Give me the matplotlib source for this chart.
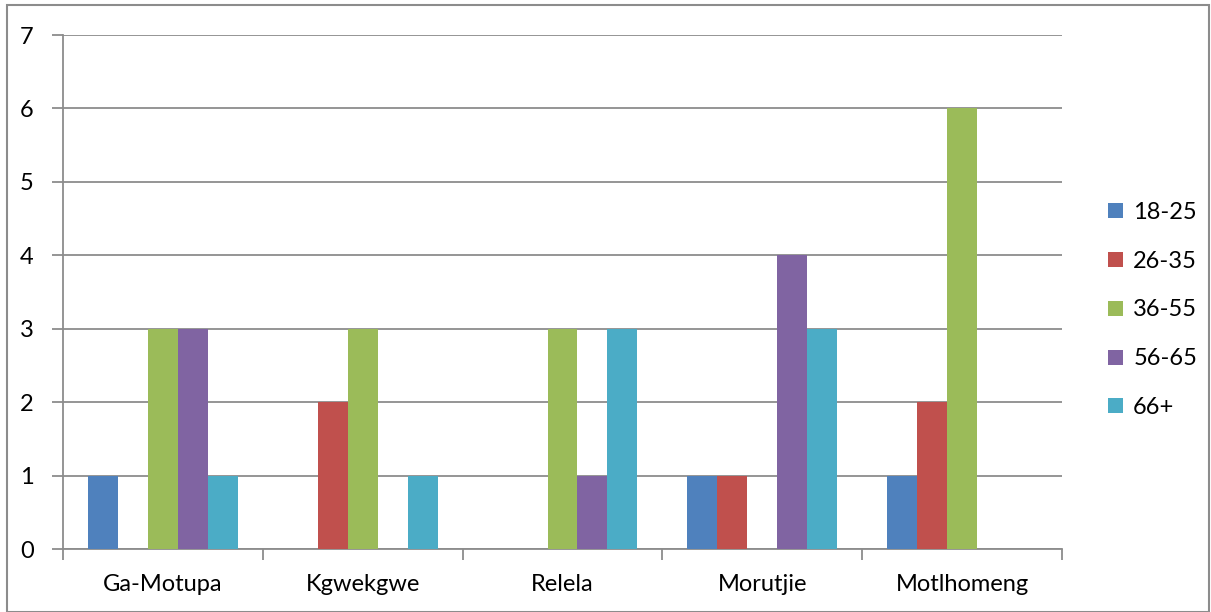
import matplotlib
matplotlib.use('Agg')
import matplotlib.pyplot as plt
from matplotlib.patches import Rectangle
import numpy as np

# chart data
villages = ['Ga-Motupa', 'Kgwekgwe', 'Relela', 'Morutjie', 'Motlhomeng']
age_groups = ['18-25', '26-35', '36-55', '56-65', '66+']
age_18_25 = [1, 0, 0, 1, 1]
age_26_35 = [0, 2, 0, 1, 2]
age_36_55 = [3, 3, 3, 0, 6]
age_56_65 = [3, 0, 1, 4, 0]
age_66_up = [1, 1, 3, 3, 0]
series = [age_18_25, age_26_35, age_36_55, age_56_65, age_66_up]
colors = ['#4F81BD', '#C0504D', '#9BBB59', '#8064A2', '#4BACC6']

plt.rcParams['font.family'] = ['Lato', 'DejaVu Sans']
grid_col = '#8C8C8C'
fs = 17

W, H = 1211, 612
fig = plt.figure(figsize=(W / 100, H / 100), dpi=100)
ax = fig.add_axes([63 / W, 1 - 549 / H, (1062 - 63) / W, (549 - 35) / H])

x = np.arange(len(villages))
bw = 0.15
for i, (vals, col, lab) in enumerate(zip(series, colors, age_groups)):
    ax.bar(x + (i - 2) * bw, vals, width=bw, color=col, label=lab, zorder=3)

ax.set_xlim(-0.5, len(villages) - 0.5)
ax.set_ylim(0, 7)
ax.set_yticks(range(0, 8))
ax.yaxis.grid(True, color=grid_col, linewidth=1.3, zorder=0)

# category labels at centres, tick marks at boundaries
ax.set_xticks(x)
ax.set_xticklabels(villages, fontsize=fs)
ax.tick_params(axis='x', length=0, pad=18)
ax.set_xticks(np.arange(-0.5, len(villages)), minor=True)
ax.tick_params(axis='x', which='minor', length=8, width=1.3, color=grid_col, direction='out')
ax.tick_params(axis='y', labelsize=fs, length=8, width=1.3, color=grid_col, pad=13)

for s in ['top', 'right']:
    ax.spines[s].set_visible(False)
for s in ['left', 'bottom']:
    ax.spines[s].set_color(grid_col)
    ax.spines[s].set_linewidth(1.3)

ax.legend(loc='center left', bbox_to_anchor=(1099 / W, 1 - 310 / H),
          bbox_transform=fig.transFigure, frameon=False, fontsize=fs,
          handlelength=0.6, handleheight=0.6, handletextpad=0.45,
          labelspacing=1.18, borderaxespad=0)

# outer chart border
fig.patches.append(Rectangle((7 / W, 0), 1 - 9 / W, 1 - 5 / H, transform=fig.transFigure,
                             fill=False, edgecolor='#8C8C8C', linewidth=1.5))

fig.savefig('out.png', dpi=100)
